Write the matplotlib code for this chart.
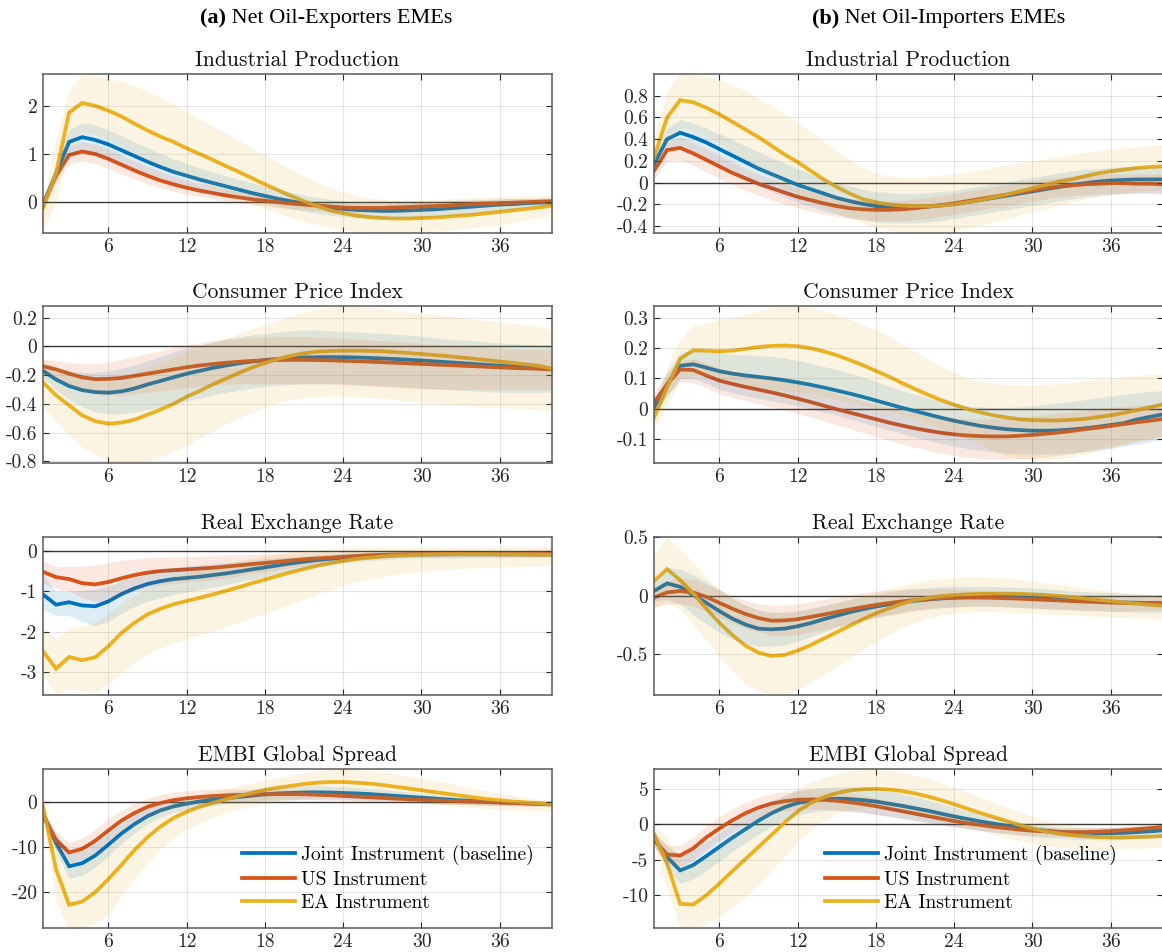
import matplotlib
matplotlib.use('Agg')
import matplotlib.pyplot as plt
import numpy as np
from matplotlib.ticker import FuncFormatter, FixedLocator

# ---------------- data ----------------
horizon = np.arange(1, 41)
xticks = [6, 12, 18, 24, 30, 36]
series_names = ["Joint Instrument (baseline)", "US Instrument", "EA Instrument"]
panel_titles = ["Industrial Production", "Consumer Price Index", "Real Exchange Rate", "EMBI Global Spread"]
column_heads = [("(a)", " Net Oil-Exporters EMEs"), ("(b)", " Net Oil-Importers EMEs")]

# (a) Industrial Production
ip_a_joint = [-0.05,0.6,1.25,1.35,1.29,1.2,1.08,0.96,0.84,0.73,0.63,0.55,0.47,0.40,0.33,0.26,0.19,0.13,0.07,0.02,-0.03,-0.07,-0.11,-0.14,-0.16,-0.17,-0.18,-0.18,-0.17,-0.16,-0.15,-0.13,-0.11,-0.09,-0.07,-0.05,-0.04,-0.02,-0.01,0.0]
ip_a_us = [-0.05,0.55,0.98,1.05,1.0,0.9,0.78,0.66,0.55,0.45,0.37,0.30,0.24,0.19,0.14,0.10,0.06,0.03,0.0,-0.03,-0.05,-0.07,-0.09,-0.11,-0.12,-0.12,-0.12,-0.11,-0.10,-0.09,-0.08,-0.07,-0.05,-0.04,-0.03,-0.02,-0.01,0.0,0.01,0.02]
ip_a_ea = [-0.12,0.6,1.86,2.06,2.0,1.9,1.78,1.63,1.49,1.36,1.25,1.12,1.0,0.88,0.75,0.63,0.5,0.37,0.25,0.13,0.02,-0.08,-0.17,-0.23,-0.28,-0.31,-0.33,-0.34,-0.34,-0.33,-0.32,-0.30,-0.28,-0.26,-0.23,-0.20,-0.17,-0.14,-0.11,-0.07]
ip_a_joint_hi = [0.05,0.75,1.5,1.65,1.6,1.5,1.38,1.25,1.13,1.01,0.9,0.8,0.71,0.63,0.55,0.47,0.4,0.33,0.27,0.21,0.15,0.1,0.06,0.03,0.01,0.0,-0.01,-0.01,0.0,0.01,0.02,0.03,0.04,0.05,0.06,0.07,0.08,0.08,0.08,0.08]
ip_a_joint_lo = [-0.15,0.45,1.0,1.08,1.02,0.93,0.82,0.71,0.6,0.5,0.41,0.34,0.27,0.21,0.15,0.09,0.03,-0.03,-0.09,-0.14,-0.19,-0.23,-0.27,-0.3,-0.32,-0.33,-0.34,-0.34,-0.33,-0.32,-0.3,-0.28,-0.26,-0.23,-0.2,-0.17,-0.14,-0.11,-0.08,-0.06]
ip_a_us_hi = [0.05,0.68,1.18,1.25,1.2,1.1,0.98,0.86,0.74,0.63,0.54,0.46,0.39,0.33,0.27,0.22,0.17,0.13,0.09,0.06,0.03,0.01,-0.01,-0.02,-0.03,-0.03,-0.03,-0.02,-0.01,0.0,0.01,0.02,0.03,0.04,0.05,0.06,0.07,0.08,0.08,0.09]
ip_a_us_lo = [-0.15,0.42,0.78,0.85,0.8,0.7,0.59,0.48,0.38,0.3,0.23,0.17,0.12,0.07,0.03,-0.01,-0.05,-0.08,-0.11,-0.14,-0.16,-0.18,-0.2,-0.21,-0.22,-0.22,-0.22,-0.21,-0.2,-0.19,-0.17,-0.15,-0.13,-0.11,-0.09,-0.08,-0.07,-0.06,-0.05,-0.04]
ip_a_ea_hi = [0.0,1.3,2.35,2.65,2.62,2.57,2.5,2.42,2.3,2.17,2.03,1.88,1.73,1.58,1.43,1.28,1.13,0.98,0.83,0.68,0.54,0.41,0.3,0.21,0.14,0.09,0.06,0.04,0.04,0.05,0.06,0.07,0.08,0.09,0.1,0.11,0.12,0.13,0.13,0.13]
ip_a_ea_lo = [-0.62,0.0,1.3,1.45,1.4,1.3,1.15,1.0,0.87,0.75,0.63,0.52,0.41,0.3,0.19,0.08,-0.03,-0.13,-0.23,-0.32,-0.4,-0.47,-0.53,-0.58,-0.61,-0.63,-0.64,-0.64,-0.63,-0.62,-0.6,-0.58,-0.56,-0.53,-0.5,-0.46,-0.42,-0.37,-0.32,-0.27]

# (b) Industrial Production
ip_b_joint = [0.17,0.4,0.46,0.42,0.37,0.31,0.25,0.19,0.13,0.08,0.03,-0.02,-0.06,-0.10,-0.14,-0.17,-0.195,-0.215,-0.225,-0.23,-0.23,-0.22,-0.21,-0.195,-0.18,-0.16,-0.14,-0.12,-0.10,-0.08,-0.06,-0.04,-0.02,-0.005,0.01,0.02,0.025,0.03,0.03,0.03]
ip_b_us = [0.11,0.3,0.32,0.27,0.21,0.15,0.09,0.04,-0.01,-0.05,-0.09,-0.13,-0.16,-0.19,-0.215,-0.235,-0.245,-0.25,-0.25,-0.245,-0.235,-0.22,-0.205,-0.19,-0.17,-0.15,-0.13,-0.11,-0.09,-0.07,-0.05,-0.035,-0.025,-0.015,-0.01,-0.005,-0.005,-0.01,-0.01,-0.015]
ip_b_ea = [0.23,0.6,0.76,0.74,0.69,0.63,0.56,0.49,0.42,0.34,0.26,0.19,0.11,0.03,-0.04,-0.10,-0.15,-0.18,-0.20,-0.21,-0.215,-0.215,-0.21,-0.2,-0.18,-0.16,-0.135,-0.11,-0.08,-0.05,-0.02,0.01,0.03,0.06,0.085,0.105,0.12,0.135,0.145,0.15]
ip_b_joint_hi = [0.24,0.5,0.58,0.55,0.5,0.45,0.4,0.34,0.29,0.23,0.18,0.13,0.08,0.04,0.0,-0.03,-0.06,-0.08,-0.09,-0.1,-0.1,-0.09,-0.08,-0.07,-0.05,-0.03,-0.01,0.01,0.03,0.05,0.07,0.09,0.11,0.12,0.13,0.14,0.15,0.15,0.15,0.15]
ip_b_joint_lo = [0.1,0.3,0.34,0.29,0.23,0.17,0.1,0.04,-0.03,-0.08,-0.13,-0.18,-0.22,-0.26,-0.29,-0.32,-0.34,-0.36,-0.37,-0.37,-0.37,-0.36,-0.35,-0.33,-0.31,-0.29,-0.27,-0.25,-0.23,-0.21,-0.19,-0.17,-0.15,-0.13,-0.12,-0.11,-0.1,-0.09,-0.09,-0.09]
ip_b_us_hi = [0.18,0.38,0.42,0.37,0.31,0.25,0.19,0.13,0.08,0.03,-0.01,-0.05,-0.08,-0.11,-0.13,-0.15,-0.16,-0.17,-0.17,-0.16,-0.15,-0.14,-0.12,-0.1,-0.08,-0.06,-0.04,-0.02,0.0,0.02,0.04,0.05,0.06,0.07,0.07,0.08,0.08,0.08,0.08,0.08]
ip_b_us_lo = [0.04,0.2,0.21,0.16,0.1,0.04,-0.02,-0.07,-0.12,-0.16,-0.2,-0.23,-0.26,-0.29,-0.31,-0.33,-0.34,-0.35,-0.35,-0.35,-0.34,-0.33,-0.31,-0.29,-0.27,-0.25,-0.23,-0.21,-0.19,-0.17,-0.15,-0.13,-0.12,-0.11,-0.1,-0.1,-0.1,-0.1,-0.1,-0.11]
ip_b_ea_hi = [0.4,0.85,1.0,1.0,0.98,0.95,0.9,0.85,0.78,0.71,0.63,0.55,0.47,0.38,0.29,0.21,0.14,0.09,0.06,0.05,0.05,0.06,0.07,0.08,0.1,0.12,0.14,0.16,0.18,0.2,0.22,0.24,0.26,0.28,0.29,0.31,0.32,0.33,0.34,0.35]
ip_b_ea_lo = [0.08,0.35,0.5,0.48,0.43,0.36,0.28,0.2,0.12,0.04,-0.04,-0.1,-0.16,-0.22,-0.28,-0.33,-0.37,-0.41,-0.44,-0.46,-0.47,-0.47,-0.46,-0.44,-0.42,-0.39,-0.36,-0.33,-0.3,-0.27,-0.24,-0.21,-0.18,-0.15,-0.13,-0.11,-0.09,-0.08,-0.07,-0.06]

# (a) Consumer Price Index
cpi_a_joint = [-0.17,-0.23,-0.276,-0.304,-0.318,-0.322,-0.313,-0.293,-0.265,-0.24,-0.215,-0.19,-0.17,-0.15,-0.133,-0.118,-0.105,-0.095,-0.087,-0.081,-0.077,-0.075,-0.074,-0.075,-0.077,-0.08,-0.084,-0.088,-0.093,-0.098,-0.104,-0.11,-0.116,-0.122,-0.128,-0.134,-0.14,-0.146,-0.152,-0.157]
cpi_a_us = [-0.138,-0.16,-0.19,-0.215,-0.228,-0.226,-0.22,-0.205,-0.19,-0.175,-0.16,-0.145,-0.133,-0.123,-0.114,-0.107,-0.101,-0.097,-0.095,-0.094,-0.094,-0.095,-0.097,-0.1,-0.103,-0.106,-0.11,-0.114,-0.118,-0.122,-0.126,-0.13,-0.134,-0.138,-0.142,-0.146,-0.15,-0.153,-0.156,-0.16]
cpi_a_ea = [-0.25,-0.34,-0.41,-0.48,-0.52,-0.537,-0.53,-0.51,-0.475,-0.44,-0.4,-0.35,-0.31,-0.265,-0.225,-0.185,-0.148,-0.115,-0.088,-0.065,-0.048,-0.037,-0.032,-0.03,-0.03,-0.031,-0.034,-0.04,-0.046,-0.053,-0.06,-0.068,-0.077,-0.086,-0.095,-0.105,-0.115,-0.125,-0.135,-0.155]
cpi_a_joint_hi = [-0.12,-0.15,-0.17,-0.18,-0.18,-0.17,-0.15,-0.13,-0.1,-0.07,-0.04,-0.01,0.01,0.03,0.05,0.065,0.08,0.09,0.1,0.11,0.115,0.115,0.11,0.105,0.1,0.095,0.09,0.085,0.08,0.07,0.06,0.05,0.045,0.04,0.03,0.025,0.02,0.015,0.01,0.005]
cpi_a_joint_lo = [-0.22,-0.3,-0.37,-0.42,-0.455,-0.47,-0.47,-0.46,-0.44,-0.42,-0.4,-0.38,-0.36,-0.34,-0.32,-0.305,-0.29,-0.28,-0.27,-0.265,-0.26,-0.26,-0.26,-0.26,-0.265,-0.27,-0.275,-0.28,-0.285,-0.29,-0.295,-0.3,-0.305,-0.31,-0.315,-0.32,-0.32,-0.32,-0.32,-0.32]
cpi_a_us_hi = [-0.09,-0.1,-0.11,-0.12,-0.12,-0.11,-0.09,-0.07,-0.05,-0.03,-0.01,0.01,0.025,0.04,0.05,0.055,0.06,0.065,0.07,0.07,0.07,0.065,0.06,0.055,0.05,0.045,0.04,0.035,0.03,0.02,0.015,0.01,0.005,0.0,-0.005,-0.01,-0.015,-0.02,-0.02,-0.02]
cpi_a_us_lo = [-0.19,-0.23,-0.27,-0.31,-0.33,-0.34,-0.34,-0.33,-0.32,-0.31,-0.3,-0.29,-0.28,-0.27,-0.265,-0.26,-0.26,-0.26,-0.26,-0.26,-0.26,-0.26,-0.26,-0.265,-0.27,-0.275,-0.28,-0.285,-0.29,-0.295,-0.3,-0.3,-0.3,-0.3,-0.3,-0.3,-0.3,-0.3,-0.3,-0.3]
cpi_a_ea_hi = [-0.1,-0.14,-0.17,-0.2,-0.22,-0.22,-0.21,-0.18,-0.15,-0.11,-0.07,-0.03,0.0,0.03,0.06,0.09,0.12,0.15,0.18,0.21,0.24,0.26,0.27,0.28,0.28,0.27,0.26,0.25,0.24,0.23,0.22,0.21,0.2,0.19,0.18,0.17,0.16,0.15,0.14,0.12]
cpi_a_ea_lo = [-0.42,-0.52,-0.62,-0.7,-0.75,-0.79,-0.81,-0.81,-0.8,-0.77,-0.73,-0.69,-0.64,-0.59,-0.54,-0.5,-0.46,-0.42,-0.39,-0.37,-0.355,-0.35,-0.345,-0.345,-0.35,-0.355,-0.36,-0.37,-0.38,-0.39,-0.4,-0.405,-0.41,-0.415,-0.42,-0.425,-0.43,-0.435,-0.44,-0.445]

# (b) Consumer Price Index
cpi_b_joint = [0.005,0.08,0.142,0.147,0.136,0.124,0.116,0.11,0.105,0.1,0.094,0.087,0.079,0.07,0.06,0.05,0.039,0.027,0.015,0.003,-0.008,-0.019,-0.03,-0.04,-0.049,-0.057,-0.063,-0.068,-0.071,-0.073,-0.073,-0.072,-0.069,-0.065,-0.06,-0.054,-0.048,-0.036,-0.027,-0.019]
cpi_b_us = [0.02,0.08,0.13,0.128,0.11,0.093,0.082,0.072,0.063,0.054,0.044,0.033,0.022,0.01,-0.002,-0.013,-0.024,-0.035,-0.046,-0.056,-0.065,-0.073,-0.08,-0.085,-0.089,-0.091,-0.092,-0.092,-0.09,-0.087,-0.083,-0.079,-0.074,-0.068,-0.063,-0.057,-0.051,-0.045,-0.04,-0.034]
cpi_b_ea = [-0.03,0.07,0.165,0.193,0.192,0.19,0.192,0.198,0.204,0.208,0.209,0.207,0.2,0.19,0.177,0.161,0.144,0.125,0.106,0.085,0.065,0.046,0.028,0.013,-0.001,-0.012,-0.022,-0.029,-0.035,-0.038,-0.039,-0.039,-0.037,-0.034,-0.028,-0.022,-0.014,-0.005,0.004,0.015]
cpi_b_joint_hi = [0.03,0.12,0.185,0.195,0.19,0.185,0.18,0.178,0.176,0.173,0.168,0.16,0.15,0.14,0.13,0.118,0.105,0.09,0.075,0.06,0.047,0.035,0.025,0.017,0.01,0.006,0.004,0.004,0.006,0.01,0.014,0.019,0.024,0.03,0.036,0.042,0.048,0.053,0.057,0.06]
cpi_b_joint_lo = [-0.02,0.04,0.1,0.1,0.085,0.065,0.052,0.042,0.034,0.026,0.018,0.01,0.0,-0.01,-0.022,-0.034,-0.046,-0.058,-0.07,-0.082,-0.094,-0.105,-0.115,-0.124,-0.132,-0.138,-0.143,-0.147,-0.15,-0.151,-0.151,-0.15,-0.147,-0.143,-0.138,-0.132,-0.125,-0.118,-0.11,-0.1]
cpi_b_us_hi = [0.05,0.12,0.16,0.165,0.15,0.135,0.125,0.115,0.107,0.1,0.092,0.083,0.073,0.062,0.05,0.038,0.026,0.015,0.004,-0.006,-0.015,-0.022,-0.027,-0.031,-0.033,-0.034,-0.033,-0.031,-0.028,-0.024,-0.02,-0.015,-0.01,-0.005,0.0,0.004,0.008,0.012,0.015,0.018]
cpi_b_us_lo = [-0.01,0.045,0.09,0.085,0.07,0.05,0.037,0.026,0.016,0.006,-0.004,-0.016,-0.028,-0.04,-0.053,-0.066,-0.079,-0.092,-0.105,-0.117,-0.128,-0.138,-0.147,-0.155,-0.161,-0.165,-0.167,-0.168,-0.167,-0.164,-0.16,-0.155,-0.148,-0.141,-0.133,-0.125,-0.117,-0.108,-0.1,-0.092]
cpi_b_ea_hi = [0.0,0.14,0.23,0.275,0.285,0.295,0.3,0.31,0.325,0.335,0.34,0.34,0.335,0.325,0.31,0.295,0.28,0.26,0.24,0.215,0.19,0.165,0.14,0.12,0.1,0.09,0.083,0.08,0.078,0.078,0.08,0.083,0.087,0.092,0.097,0.102,0.106,0.11,0.113,0.115]
cpi_b_ea_lo = [-0.07,0.01,0.1,0.11,0.11,0.1,0.09,0.08,0.07,0.065,0.06,0.055,0.05,0.04,0.03,0.02,0.01,0.0,-0.01,-0.02,-0.035,-0.05,-0.065,-0.08,-0.1,-0.12,-0.14,-0.155,-0.165,-0.17,-0.17,-0.165,-0.16,-0.15,-0.14,-0.13,-0.12,-0.11,-0.1,-0.09]

# (a) Real Exchange Rate
rer_a_joint = [-1.08,-1.33,-1.27,-1.35,-1.37,-1.25,-1.07,-0.93,-0.82,-0.75,-0.7,-0.67,-0.64,-0.6,-0.56,-0.51,-0.46,-0.41,-0.36,-0.31,-0.27,-0.23,-0.2,-0.17,-0.15,-0.13,-0.115,-0.105,-0.095,-0.09,-0.088,-0.086,-0.085,-0.085,-0.085,-0.086,-0.087,-0.088,-0.089,-0.09]
rer_a_us = [-0.52,-0.65,-0.7,-0.8,-0.83,-0.77,-0.68,-0.6,-0.54,-0.5,-0.48,-0.46,-0.44,-0.42,-0.39,-0.36,-0.33,-0.3,-0.27,-0.24,-0.21,-0.19,-0.17,-0.15,-0.13,-0.11,-0.1,-0.09,-0.085,-0.08,-0.08,-0.08,-0.08,-0.08,-0.08,-0.08,-0.08,-0.08,-0.08,-0.08]
rer_a_ea = [-2.48,-2.91,-2.62,-2.7,-2.63,-2.36,-2.03,-1.78,-1.57,-1.43,-1.32,-1.24,-1.16,-1.08,-0.99,-0.9,-0.8,-0.71,-0.62,-0.53,-0.45,-0.37,-0.31,-0.25,-0.2,-0.17,-0.14,-0.12,-0.105,-0.095,-0.09,-0.085,-0.085,-0.085,-0.085,-0.09,-0.09,-0.09,-0.095,-0.1]
rer_a_joint_hi = [-0.6,-1.0,-1.0,-0.98,-0.95,-0.88,-0.75,-0.63,-0.53,-0.46,-0.41,-0.38,-0.35,-0.32,-0.29,-0.26,-0.23,-0.2,-0.17,-0.14,-0.12,-0.1,-0.08,-0.06,-0.05,-0.04,-0.03,-0.02,-0.02,-0.01,-0.01,-0.01,-0.01,-0.01,-0.01,-0.01,-0.01,-0.01,-0.01,-0.01]
rer_a_joint_lo = [-1.45,-1.6,-1.6,-1.75,-1.85,-1.75,-1.55,-1.38,-1.25,-1.16,-1.08,-1.02,-0.96,-0.9,-0.84,-0.77,-0.7,-0.63,-0.56,-0.5,-0.44,-0.39,-0.34,-0.3,-0.27,-0.24,-0.22,-0.2,-0.19,-0.18,-0.18,-0.18,-0.18,-0.17,-0.17,-0.17,-0.17,-0.17,-0.17,-0.17]
rer_a_us_hi = [-0.25,-0.4,-0.38,-0.38,-0.35,-0.3,-0.24,-0.2,-0.17,-0.16,-0.15,-0.14,-0.13,-0.12,-0.11,-0.1,-0.09,-0.08,-0.07,-0.06,-0.05,-0.04,-0.035,-0.03,-0.025,-0.02,-0.02,-0.02,-0.02,-0.015,-0.015,-0.015,-0.01,-0.01,-0.01,-0.01,-0.01,-0.01,-0.01,-0.01]
rer_a_us_lo = [-0.8,-0.92,-1.0,-1.15,-1.25,-1.2,-1.1,-0.99,-0.9,-0.84,-0.8,-0.77,-0.74,-0.71,-0.67,-0.62,-0.57,-0.52,-0.47,-0.42,-0.37,-0.33,-0.29,-0.26,-0.23,-0.2,-0.18,-0.17,-0.16,-0.15,-0.15,-0.15,-0.15,-0.14,-0.14,-0.14,-0.14,-0.14,-0.14,-0.14]
rer_a_ea_hi = [-1.9,-2.2,-1.9,-1.85,-1.75,-1.55,-1.3,-1.1,-0.92,-0.78,-0.66,-0.56,-0.47,-0.39,-0.32,-0.25,-0.19,-0.13,-0.08,-0.03,0.0,0.03,0.05,0.07,0.08,0.09,0.09,0.09,0.09,0.09,0.09,0.09,0.09,0.09,0.1,0.1,0.1,0.1,0.1,0.1]
rer_a_ea_lo = [-3.05,-3.55,-3.4,-3.45,-3.5,-3.3,-3.0,-2.75,-2.55,-2.4,-2.28,-2.18,-2.08,-1.98,-1.88,-1.77,-1.66,-1.55,-1.43,-1.31,-1.19,-1.07,-0.96,-0.86,-0.77,-0.7,-0.64,-0.59,-0.55,-0.51,-0.48,-0.46,-0.44,-0.42,-0.41,-0.4,-0.39,-0.38,-0.37,-0.36]

# (b) Real Exchange Rate
rer_b_joint = [0.04,0.105,0.076,0.006,-0.06,-0.13,-0.195,-0.245,-0.28,-0.286,-0.28,-0.26,-0.233,-0.2,-0.17,-0.14,-0.115,-0.092,-0.073,-0.057,-0.043,-0.032,-0.023,-0.016,-0.011,-0.008,-0.007,-0.008,-0.011,-0.016,-0.022,-0.029,-0.036,-0.042,-0.048,-0.053,-0.057,-0.06,-0.062,-0.064]
rer_b_us = [-0.017,0.028,0.04,0.028,-0.01,-0.06,-0.11,-0.155,-0.19,-0.212,-0.21,-0.2,-0.18,-0.16,-0.138,-0.117,-0.097,-0.078,-0.062,-0.048,-0.036,-0.027,-0.021,-0.017,-0.016,-0.016,-0.018,-0.021,-0.025,-0.03,-0.035,-0.04,-0.045,-0.05,-0.054,-0.058,-0.061,-0.064,-0.066,-0.068]
rer_b_ea = [0.125,0.227,0.133,0.02,-0.108,-0.23,-0.334,-0.425,-0.484,-0.513,-0.504,-0.467,-0.42,-0.365,-0.31,-0.255,-0.2,-0.15,-0.108,-0.068,-0.037,-0.017,-0.003,0.006,0.012,0.016,0.018,0.018,0.016,0.012,0.006,-0.002,-0.012,-0.023,-0.035,-0.046,-0.057,-0.067,-0.076,-0.085]
rer_b_joint_hi = [0.12,0.24,0.23,0.18,0.12,0.05,-0.02,-0.08,-0.12,-0.14,-0.14,-0.13,-0.11,-0.08,-0.06,-0.03,-0.01,0.01,0.03,0.05,0.06,0.07,0.075,0.08,0.08,0.08,0.078,0.075,0.07,0.065,0.06,0.05,0.04,0.035,0.03,0.025,0.02,0.015,0.01,0.005]
rer_b_joint_lo = [-0.05,-0.03,-0.07,-0.16,-0.24,-0.31,-0.37,-0.41,-0.43,-0.43,-0.42,-0.39,-0.35,-0.31,-0.27,-0.24,-0.21,-0.18,-0.16,-0.14,-0.12,-0.11,-0.1,-0.095,-0.09,-0.09,-0.09,-0.095,-0.1,-0.105,-0.11,-0.115,-0.12,-0.125,-0.13,-0.135,-0.135,-0.14,-0.14,-0.14]
rer_b_us_hi = [0.07,0.13,0.15,0.14,0.1,0.05,0.0,-0.04,-0.07,-0.08,-0.08,-0.07,-0.05,-0.03,-0.01,0.01,0.025,0.04,0.05,0.055,0.06,0.06,0.06,0.055,0.05,0.045,0.04,0.035,0.03,0.025,0.02,0.015,0.01,0.005,0.0,-0.005,-0.01,-0.01,-0.015,-0.015]
rer_b_us_lo = [-0.1,-0.07,-0.07,-0.09,-0.13,-0.18,-0.23,-0.28,-0.31,-0.34,-0.34,-0.33,-0.31,-0.29,-0.26,-0.24,-0.21,-0.19,-0.17,-0.15,-0.13,-0.115,-0.105,-0.095,-0.09,-0.09,-0.09,-0.095,-0.1,-0.105,-0.11,-0.115,-0.12,-0.125,-0.125,-0.13,-0.13,-0.13,-0.13,-0.13]
rer_b_ea_hi = [0.35,0.5,0.4,0.28,0.16,0.06,-0.02,-0.08,-0.12,-0.14,-0.14,-0.13,-0.11,-0.09,-0.06,-0.03,0.0,0.03,0.06,0.09,0.11,0.13,0.145,0.155,0.16,0.16,0.155,0.15,0.14,0.125,0.11,0.095,0.08,0.065,0.05,0.04,0.03,0.02,0.01,0.0]
rer_b_ea_lo = [-0.1,-0.05,-0.12,-0.24,-0.38,-0.52,-0.64,-0.75,-0.81,-0.845,-0.84,-0.8,-0.74,-0.67,-0.6,-0.53,-0.46,-0.39,-0.33,-0.27,-0.23,-0.19,-0.165,-0.15,-0.14,-0.135,-0.135,-0.14,-0.145,-0.15,-0.155,-0.16,-0.165,-0.17,-0.175,-0.18,-0.185,-0.19,-0.195,-0.2]

# (a) EMBI Global Spread
embi_a_joint = [-2.5,-9.1,-14.3,-13.6,-11.9,-9.5,-7.0,-4.9,-3.1,-1.8,-0.9,-0.3,0.2,0.6,0.9,1.2,1.5,1.8,2.0,2.1,2.2,2.25,2.2,2.1,2.0,1.85,1.65,1.45,1.25,1.05,0.85,0.65,0.45,0.3,0.15,0.0,-0.1,-0.2,-0.3,-0.4]
embi_a_us = [-3.0,-8.4,-11.2,-10.4,-8.6,-6.3,-4.1,-2.4,-1.0,-0.15,0.5,0.9,1.2,1.4,1.55,1.65,1.75,1.8,1.85,1.85,1.8,1.7,1.6,1.45,1.3,1.15,1.0,0.85,0.7,0.55,0.45,0.35,0.25,0.15,0.05,-0.05,-0.15,-0.25,-0.35,-0.45]
embi_a_ea = [-0.9,-15.0,-22.9,-22.2,-20.1,-17.2,-14.0,-10.7,-7.8,-5.4,-3.5,-2.1,-1.0,-0.15,0.67,1.4,2.1,2.8,3.3,3.7,4.1,4.4,4.55,4.55,4.4,4.2,3.9,3.5,3.1,2.7,2.3,1.9,1.5,1.1,0.75,0.45,0.2,0.0,-0.2,-0.5]
embi_a_joint_hi = [-1.5,-7.0,-11.5,-11.0,-9.3,-7.0,-4.8,-2.9,-1.4,-0.3,0.5,1.0,1.5,1.9,2.3,2.6,2.9,3.2,3.4,3.6,3.7,3.7,3.6,3.5,3.3,3.1,2.9,2.6,2.3,2.0,1.7,1.4,1.1,0.85,0.6,0.4,0.25,0.1,0.0,-0.1]
embi_a_joint_lo = [-3.5,-11.0,-17.0,-16.3,-14.5,-12.0,-9.2,-6.9,-4.8,-3.3,-2.3,-1.6,-1.1,-0.7,-0.4,-0.1,0.1,0.3,0.5,0.6,0.7,0.75,0.75,0.7,0.6,0.5,0.35,0.2,0.05,-0.1,-0.25,-0.4,-0.5,-0.6,-0.7,-0.75,-0.8,-0.85,-0.85,-0.9]
embi_a_us_hi = [-2.0,-6.5,-9.0,-8.0,-6.0,-3.8,-1.8,-0.3,0.9,1.7,2.3,2.6,2.8,2.9,3.0,3.0,3.0,3.0,3.0,2.9,2.8,2.7,2.5,2.3,2.1,1.9,1.7,1.5,1.3,1.1,0.9,0.75,0.6,0.45,0.3,0.2,0.1,0.0,-0.1,-0.15]
embi_a_us_lo = [-4.0,-10.5,-13.5,-12.8,-11.2,-8.8,-6.4,-4.5,-3.0,-2.0,-1.3,-0.8,-0.4,-0.1,0.1,0.3,0.4,0.5,0.55,0.6,0.6,0.55,0.5,0.4,0.3,0.2,0.1,0.0,-0.1,-0.2,-0.3,-0.4,-0.5,-0.6,-0.65,-0.7,-0.75,-0.8,-0.85,-0.9]
embi_a_ea_hi = [0.0,-9.0,-15.0,-14.0,-12.0,-9.5,-7.0,-4.8,-2.8,-1.2,0.0,1.0,1.8,2.5,3.1,3.7,4.3,4.9,5.5,6.1,6.6,7.0,7.3,7.4,7.3,7.1,6.8,6.4,5.9,5.4,4.9,4.4,3.8,3.2,2.6,2.0,1.5,1.1,0.7,0.4]
embi_a_ea_lo = [-2.0,-22.0,-29.0,-28.0,-27.0,-25.0,-21.0,-17.0,-13.5,-10.5,-8.0,-6.0,-4.5,-3.3,-2.3,-1.5,-0.8,-0.2,0.3,0.7,1.0,1.2,1.3,1.3,1.2,1.0,0.8,0.5,0.2,-0.1,-0.4,-0.7,-1.0,-1.2,-1.4,-1.6,-1.7,-1.8,-1.9,-2.0]

# (b) EMBI Global Spread
embi_b_joint = [-2.0,-4.6,-6.5,-5.75,-4.5,-3.2,-1.9,-0.7,0.5,1.55,2.4,3.0,3.3,3.5,3.6,3.55,3.4,3.2,2.9,2.6,2.25,1.9,1.5,1.1,0.75,0.4,0.1,-0.2,-0.45,-0.7,-0.9,-1.05,-1.15,-1.2,-1.25,-1.25,-1.2,-1.1,-1.0,-0.85]
embi_b_us = [-2.2,-4.25,-4.4,-3.4,-1.85,-0.6,0.55,1.55,2.35,2.9,3.25,3.45,3.5,3.45,3.3,3.1,2.85,2.55,2.2,1.85,1.5,1.15,0.8,0.45,0.15,-0.1,-0.35,-0.55,-0.75,-0.9,-1.0,-1.1,-1.1,-1.1,-1.05,-0.95,-0.85,-0.7,-0.55,-0.4]
embi_b_ea = [-1.4,-5.5,-11.2,-11.3,-10.0,-8.35,-6.6,-4.9,-3.2,-1.5,0.24,1.8,3.0,3.8,4.4,4.75,4.95,5.0,4.9,4.67,4.34,3.9,3.4,2.83,2.2,1.6,1.04,0.47,-0.1,-0.6,-1.0,-1.3,-1.55,-1.7,-1.8,-1.85,-1.85,-1.8,-1.75,-1.65]
embi_b_joint_hi = [-1.0,-3.0,-4.5,-3.8,-2.5,-1.2,0.0,1.2,2.3,3.3,4.1,4.7,5.0,5.2,5.3,5.3,5.2,5.0,4.7,4.3,3.9,3.4,2.9,2.4,1.9,1.4,1.0,0.6,0.3,0.0,-0.2,-0.35,-0.45,-0.5,-0.5,-0.45,-0.4,-0.3,-0.2,-0.05]
embi_b_joint_lo = [-3.0,-6.2,-8.3,-7.7,-6.5,-5.2,-3.8,-2.6,-1.4,-0.3,0.6,1.3,1.7,1.9,1.95,1.9,1.7,1.45,1.15,0.85,0.55,0.25,-0.05,-0.3,-0.6,-0.85,-1.1,-1.35,-1.55,-1.75,-1.9,-2.0,-2.1,-2.15,-2.2,-2.2,-2.15,-2.05,-1.95,-1.8]
embi_b_us_hi = [-1.2,-3.0,-3.0,-1.8,-0.2,1.1,2.2,3.1,3.8,4.3,4.6,4.8,4.85,4.8,4.6,4.4,4.1,3.7,3.3,2.9,2.5,2.1,1.7,1.3,0.95,0.65,0.35,0.1,-0.1,-0.3,-0.4,-0.5,-0.5,-0.5,-0.45,-0.4,-0.3,-0.2,-0.05,0.1]
embi_b_us_lo = [-3.2,-5.5,-5.8,-5.0,-3.5,-2.3,-1.1,0.0,0.9,1.5,1.9,2.1,2.15,2.1,2.0,1.8,1.6,1.35,1.1,0.8,0.5,0.2,-0.1,-0.4,-0.65,-0.9,-1.1,-1.3,-1.45,-1.55,-1.65,-1.7,-1.7,-1.7,-1.65,-1.55,-1.45,-1.3,-1.15,-1.0]
embi_b_ea_hi = [0.0,-2.0,-5.5,-5.5,-4.5,-3.0,-1.5,0.0,1.4,2.8,4.0,5.0,5.9,6.6,7.1,7.5,7.7,7.7,7.6,7.3,6.9,6.4,5.8,5.2,4.5,3.8,3.1,2.4,1.7,1.1,0.6,0.2,-0.1,-0.3,-0.4,-0.45,-0.45,-0.4,-0.3,-0.2]
embi_b_ea_lo = [-2.8,-9.0,-14.5,-14.6,-14.0,-13.0,-11.8,-10.3,-8.5,-6.5,-4.5,-2.5,-0.8,0.5,1.4,2.0,2.3,2.4,2.3,2.0,1.6,1.1,0.6,0.1,-0.4,-0.9,-1.4,-1.9,-2.3,-2.7,-3.0,-3.2,-3.35,-3.45,-3.5,-3.5,-3.45,-3.4,-3.3,-3.2]

# axis settings per panel (row, col)
ylims = {(0, 0): (-0.64, 2.66), (0, 1): (-0.463, 1.0),
         (1, 0): (-0.811, 0.281), (1, 1): (-0.18, 0.34),
         (2, 0): (-3.56, 0.34), (2, 1): (-0.845, 0.5),
         (3, 0): (-28.1, 7.46), (3, 1): (-14.6, 7.78)}
yticks = {(0, 0): [0, 1, 2], (0, 1): [-0.4, -0.2, 0, 0.2, 0.4, 0.6, 0.8],
          (1, 0): [-0.8, -0.6, -0.4, -0.2, 0, 0.2], (1, 1): [-0.1, 0, 0.1, 0.2, 0.3],
          (2, 0): [-3, -2, -1, 0], (2, 1): [-0.5, 0, 0.5],
          (3, 0): [-20, -10, 0], (3, 1): [-10, -5, 0, 5]}

panels = {
    (0, 0): [(ip_a_joint, ip_a_joint_lo, ip_a_joint_hi), (ip_a_us, ip_a_us_lo, ip_a_us_hi), (ip_a_ea, ip_a_ea_lo, ip_a_ea_hi)],
    (0, 1): [(ip_b_joint, ip_b_joint_lo, ip_b_joint_hi), (ip_b_us, ip_b_us_lo, ip_b_us_hi), (ip_b_ea, ip_b_ea_lo, ip_b_ea_hi)],
    (1, 0): [(cpi_a_joint, cpi_a_joint_lo, cpi_a_joint_hi), (cpi_a_us, cpi_a_us_lo, cpi_a_us_hi), (cpi_a_ea, cpi_a_ea_lo, cpi_a_ea_hi)],
    (1, 1): [(cpi_b_joint, cpi_b_joint_lo, cpi_b_joint_hi), (cpi_b_us, cpi_b_us_lo, cpi_b_us_hi), (cpi_b_ea, cpi_b_ea_lo, cpi_b_ea_hi)],
    (2, 0): [(rer_a_joint, rer_a_joint_lo, rer_a_joint_hi), (rer_a_us, rer_a_us_lo, rer_a_us_hi), (rer_a_ea, rer_a_ea_lo, rer_a_ea_hi)],
    (2, 1): [(rer_b_joint, rer_b_joint_lo, rer_b_joint_hi), (rer_b_us, rer_b_us_lo, rer_b_us_hi), (rer_b_ea, rer_b_ea_lo, rer_b_ea_hi)],
    (3, 0): [(embi_a_joint, embi_a_joint_lo, embi_a_joint_hi), (embi_a_us, embi_a_us_lo, embi_a_us_hi), (embi_a_ea, embi_a_ea_lo, embi_a_ea_hi)],
    (3, 1): [(embi_b_joint, embi_b_joint_lo, embi_b_joint_hi), (embi_b_us, embi_b_us_lo, embi_b_us_hi), (embi_b_ea, embi_b_ea_lo, embi_b_ea_hi)],
}

# ---------------- style ----------------
colors = ['#0072BD', '#D95319', '#EDB120']
plt.rcParams['font.family'] = ['cmr10', 'DejaVu Serif']
plt.rcParams['axes.unicode_minus'] = False
plt.rcParams['mathtext.fontset'] = 'cm'

W, H = 1162, 952
fig = plt.figure(figsize=(W / 100, H / 100), dpi=100)

col_left = [43, 654]
ax_w = 509
rows_px = [(74, 233), (306, 463), (537, 695), (769, 928)]

fmt = FuncFormatter(lambda v, p: ('%g' % round(v, 6)).replace('\u2212', '-'))

for (r, c), data in panels.items():
    top, bot = rows_px[r]
    ax = fig.add_axes([col_left[c] / W, 1 - bot / H, ax_w / W, (bot - top) / H])
    ax.axhline(0, color='#3f3f3f', lw=1.0, zorder=1.5)
    for k, (line, lo, hi) in enumerate(data):
        ax.plot(horizon, line, color=colors[k], lw=2.7, zorder=2, solid_joinstyle='miter',
                label=series_names[k])
    for k, (line, lo, hi) in enumerate(data):
        ax.fill_between(horizon, lo, hi, color=colors[k], alpha=0.13, lw=0, zorder=3)
    ax.set_xlim(1, 40)
    ax.set_ylim(*ylims[(r, c)])
    ax.xaxis.set_major_locator(FixedLocator(xticks))
    ax.yaxis.set_major_locator(FixedLocator(yticks[(r, c)]))
    ax.yaxis.set_major_formatter(fmt)
    ax.xaxis.set_major_formatter(fmt)
    ax.grid(True, color='#000000', alpha=0.10, lw=0.8)
    ax.set_axisbelow(False)
    ax.tick_params(direction='in', length=4, width=0.8, top=True, right=True,
                   labelsize=14, colors='#262626', pad=4)
    for s in ax.spines.values():
        s.set_color('#5a5a5a')
        s.set_linewidth(1.1)
        s.set_zorder(4)
    ax.set_title(panel_titles[r], fontsize=15.5, pad=6, color='#111111')
    if r == 3:
        ax.legend(loc='upper left', bbox_to_anchor=((0.375 if c == 0 else 0.32), 0.57),
                  frameon=False, fontsize=14, handlelength=2.75, handletextpad=0.3,
                  labelspacing=0.28, borderaxespad=0)

# column headings: bold label + regular text
fig.canvas.draw()
renderer = fig.canvas.get_renderer()
head_x = [200, 812]
for c, (lab, rest) in enumerate(column_heads):
    t1 = fig.text(head_x[c] / W, 1 - 18 / H, lab, fontsize=16, weight='bold',
                  family=['Liberation Serif'], va='center', ha='left')
    bb = t1.get_window_extent(renderer)
    fig.text(bb.x1 / W, 1 - 18 / H, rest, fontsize=16, family=['Liberation Serif'],
             va='center', ha='left')

fig.savefig('out.png', dpi=100)
